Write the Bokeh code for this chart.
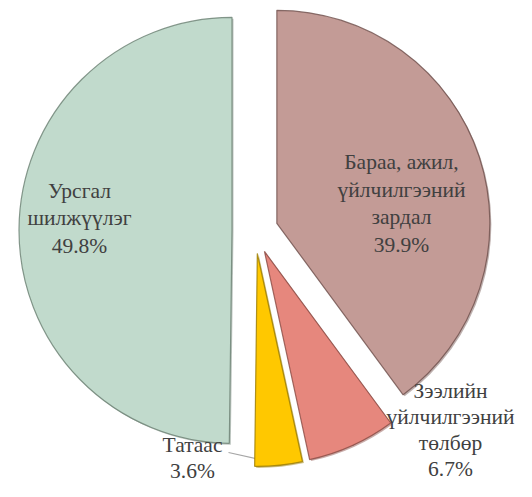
import numpy as np
from bokeh.plotting import figure
from bokeh.models import Range1d, ColumnDataSource
from bokeh.core.properties import value
from bokeh.embed import file_html
from bokeh.resources import INLINE

# ---- data ----
categories = ["Бараа, ажил,\nүйлчилгээний\nзардал",
              "Зээлийн\nүйлчилгээний\nтөлбөр",
              "Татаас",
              "Урсгал\nшилжүүлэг"]
shares = [39.9, 6.7, 3.6, 49.8]
pct_labels = ["39.9%", "6.7%", "3.6%", "49.8%"]

# ---- styles ----
fills = ["#C39B96", "#E6877D", "#FFC800", "#C1DACC"]
edges = ["#6E4F4B", "#8A4A42", "#9A7A00", "#6A7F72"]
TXT = "#404040"
FONT = value("Liberation Serif")

W, H = 516, 481
TOP = 497  # data y = TOP - pixel row
p = figure(width=W, height=H, output_backend="svg", toolbar_location=None,
           x_range=Range1d(0, W), y_range=Range1d(TOP - H, TOP),
           min_border=0, outline_line_color=None,
           background_fill_color="white", border_fill_color="white")
p.axis.visible = False
p.grid.visible = False

cx, cy = 254.5, TOP - 230.0
R = 213.0
EXPL = 23.0
SH = 1.5

vals = np.array(shares, dtype=float)
cum = np.concatenate([[0], np.cumsum(vals)]) / vals.sum() * 360.0
th_s, th_e = cum[:-1], cum[1:]
mid = np.radians((th_s + th_e) / 2)
xs = cx + EXPL * np.sin(mid)
ys = cy + EXPL * np.cos(mid)
start = np.radians(90 - th_e)
end = np.radians(90 - th_s)

# leader lines (under the slices)
p.line([228, 282], [TOP - 452, TOP - 464], line_color="#A6A6A6", line_width=1.2)
p.line([352, 386], [TOP - 445, TOP - 421], line_color="#A6A6A6", line_width=1.2)

src = ColumnDataSource(dict(x=xs, y=ys, xsh=xs + SH, ysh=ys - SH,
                            start=start, end=end, fill=fills, edge=edges))
# soft shadow / bevel
p.wedge(x="xsh", y="ysh", radius=R, start_angle="start", end_angle="end",
        source=src, fill_color="edge", fill_alpha=0.45, line_color=None)
p.wedge(x="x", y="y", radius=R, start_angle="start", end_angle="end",
        source=src, fill_color="fill", line_color="edge", line_width=1.2, line_alpha=0.8)

texts = [c + "\n" + v for c, v in zip(categories, pct_labels)]

# labels inside the large slices (pixel anchors: x, row)
top_idx = [0, 3]
top_x = [401, 79]
top_row = [203, 218]
p.text(x=top_x, y=[TOP - r for r in top_row], text=[texts[i] for i in top_idx],
       text_font=FONT, text_font_size="21.5px", text_color=TXT,
       text_align="center", text_baseline="middle", text_line_height=1.15)

# outside labels near the bottom edge
bot_idx = [1, 2]
bot_x = [450, 192]
bot_row = [429.5, 457.5]
p.text(x=bot_x, y=[TOP - r for r in bot_row], text=[texts[i] for i in bot_idx],
       text_font=FONT, text_font_size="21.5px", text_color=TXT,
       text_align="center", text_baseline="middle", text_line_height=1.07)

open("out.html", "w").write(file_html(p, INLINE))
